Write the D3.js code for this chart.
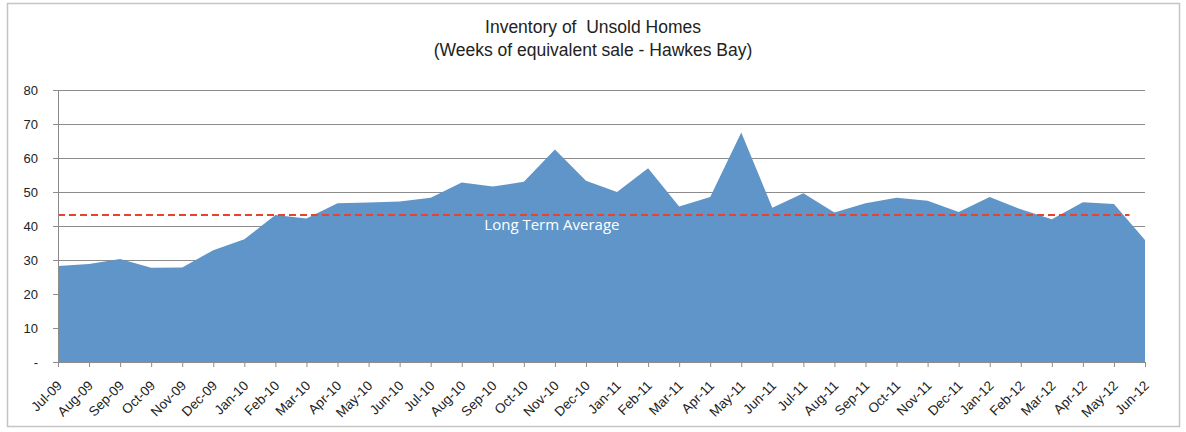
<!DOCTYPE html>
<html lang="en">
<head>
    <meta charset="UTF-8">
    <title>Inventory of Unsold Homes</title>
    <script src="https://d3js.org/d3.v7.min.js"></script>
    <style>
        body { margin: 0; background: #fff; }
        svg { display: block; font-family: "Liberation Sans", Arial, sans-serif; }
    </style>
</head>
<body>
    <svg id="chart"></svg>

    <script>
        // data
        const months = ["Jul-09", "Aug-09", "Sep-09", "Oct-09", "Nov-09", "Dec-09",
            "Jan-10", "Feb-10", "Mar-10", "Apr-10", "May-10", "Jun-10",
            "Jul-10", "Aug-10", "Sep-10", "Oct-10", "Nov-10", "Dec-10",
            "Jan-11", "Feb-11", "Mar-11", "Apr-11", "May-11", "Jun-11",
            "Jul-11", "Aug-11", "Sep-11", "Oct-11", "Nov-11", "Dec-11",
            "Jan-12", "Feb-12", "Mar-12", "Apr-12", "May-12", "Jun-12"];
        const weeks = [28.2, 28.8, 30.3, 27.7, 27.8, 32.9,
            36.1, 43.2, 42.2, 46.7, 46.9, 47.2,
            48.3, 52.8, 51.6, 53.0, 62.5, 53.3,
            50.0, 57.0, 45.7, 48.5, 67.5, 45.4,
            49.6, 44.0, 46.7, 48.3, 47.4, 44.1,
            48.5, 44.9, 42.0, 47.0, 46.5, 35.9];
        const longTermAvg = 43.2;
        const yTicks = [0, 10, 20, 30, 40, 50, 60, 70, 80];
        const titleLines = ["Inventory of  Unsold Homes", "(Weeks of equivalent sale - Hawkes Bay)"];
        const avgLabel = "Long Term Average";

        const W = 1186, H = 432;
        const margin = { top: 90, right: 41, bottom: 70, left: 58 };
        const width = W - margin.left - margin.right;
        const height = H - margin.top - margin.bottom;

        const svgRoot = d3.select("#chart").attr("width", W).attr("height", H);

        // outer chart border
        svgRoot.append("rect")
            .attr("x", 7.5).attr("y", 3.5)
            .attr("width", 1172).attr("height", 423)
            .attr("fill", "none").attr("stroke", "#c4c4c4").attr("stroke-width", 1.5);

        // title
        svgRoot.append("g").selectAll("text")
            .data(titleLines)
            .join("text")
            .attr("x", 593)
            .attr("y", (d, i) => 33 + i * 23)
            .attr("text-anchor", "middle")
            .attr("font-size", 17.5)
            .attr("fill", "#222")
            .style("white-space", "pre")
            .text(d => d);

        const svg = svgRoot.append("g")
            .attr("transform", `translate(${margin.left}, ${margin.top})`);

        const x = d3.scalePoint().domain(months).range([0, width]);
        const y = d3.scaleLinear().domain([0, 80]).range([height, 0]);

        // gridlines
        svg.append("g").selectAll("line")
            .data(yTicks.filter(d => d > 0))
            .join("line")
            .attr("x1", 0).attr("x2", width)
            .attr("y1", d => Math.round(y(d)) + 0.5).attr("y2", d => Math.round(y(d)) + 0.5)
            .attr("stroke", "#8c8c8c");

        // area
        const area = d3.area()
            .x((d, i) => x(months[i]))
            .y0(y(0))
            .y1(d => y(d));

        svg.append("path")
            .datum(weeks)
            .attr("fill", "#5f95c8")
            .attr("d", area);

        // long-term average dashed line
        const step = x.step();
        svg.append("line")
            .attr("x1", x(months[0]))
            .attr("x2", x(months[months.length - 1]) - step / 2)
            .attr("y1", y(longTermAvg)).attr("y2", y(longTermAvg))
            .attr("stroke", "#e8432e")
            .attr("stroke-width", 2)
            .attr("stroke-dasharray", "7,4");

        svg.append("text")
            .attr("x", x("Nov-10") - 3)
            .attr("y", y(longTermAvg) + 15)
            .attr("text-anchor", "middle")
            .attr("font-family", "'Open Sans', sans-serif")
            .attr("font-size", 15)
            .attr("fill", "#fff")
            .text(avgLabel);

        // y axis
        const yAxis = svg.append("g")
            .call(d3.axisLeft(y).tickValues(yTicks).tickSize(5).tickPadding(15)
                .tickFormat(d => d === 0 ? "-" : d));
        yAxis.selectAll("line, path").attr("stroke", "#8c8c8c");
        yAxis.selectAll("text").attr("font-size", 13).attr("fill", "#222");

        // x axis
        const xAxis = svg.append("g")
            .attr("transform", `translate(0, ${height})`)
            .call(d3.axisBottom(x).tickSize(5).tickSizeOuter(0));
        xAxis.selectAll("line, path").attr("stroke", "#8c8c8c");
        xAxis.selectAll("text")
            .attr("x", 0).attr("y", 0)
            .attr("dy", "0.35em")
            .attr("font-size", 13.5)
            .attr("fill", "#222")
            .attr("text-anchor", "end")
            .attr("transform", "translate(1, 21) rotate(-45)");
    </script>
</body>
</html>
